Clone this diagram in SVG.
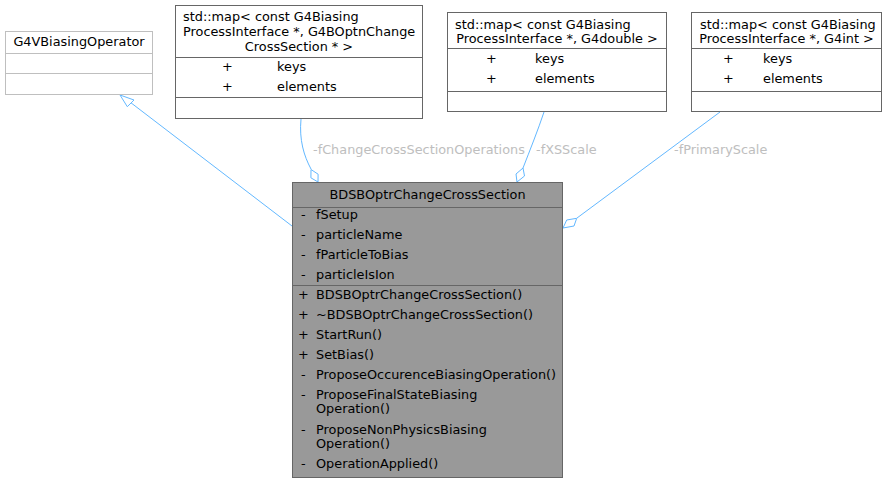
<svg xmlns="http://www.w3.org/2000/svg" width="887" height="483" viewBox="0 0 887 483">
<style>
text{font-family:"DejaVu Sans",sans-serif;font-size:12.85px;fill:#000}
.c{text-anchor:middle}
.lbl{fill:#bebebe}
.edge{fill:none;stroke:#63b8ff;stroke-width:1}
.head{fill:#fff;stroke:#63b8ff;stroke-width:1}
.box{fill:#fff;stroke:#666;stroke-width:1}
.gbox{fill:#fff;stroke:#bfbfbf;stroke-width:1}
.main{fill:#999;stroke:#666;stroke-width:1}
</style>
<rect width="887" height="483" fill="#fff"/>
<g id="edges">
<path class="edge" d="M292,226 L126,99"/>
<polygon class="head" points="120,95 127.3,106.7 134,100"/>
<path class="edge" d="M301,119 C299,140 304,156 311,169"/>
<polygon class="head" points="318,182 318.1,174.2 311,169.5 310.9,177.8"/>
<text class="lbl" x="313" y="154">-fChangeCrossSectionOperations</text>
<path class="edge" d="M544,112 C538,130 530,150 523,168"/>
<polygon class="head" points="517,182 516,174 523,168 524.5,176"/>
<text class="lbl" x="536" y="154">-fXSScale</text>
<path class="edge" d="M720,112 L577,218"/>
<polygon class="head" points="563,228 566.7,220 576.7,218.3 574,226"/>
<text class="lbl" x="674" y="154">-fPrimaryScale</text>
</g>
<g id="G4VBiasingOperator">
<rect class="gbox" x="5.5" y="31.5" width="147" height="63"/>
<line x1="5.5" y1="53.5" x2="152.5" y2="53.5" stroke="#bfbfbf"/>
<line x1="5.5" y1="73.5" x2="152.5" y2="73.5" stroke="#bfbfbf"/>
<text class="c" x="79" y="46">G4VBiasingOperator</text>
</g>
<g id="mapOps">
<rect class="box" x="175.5" y="5.5" width="247" height="113"/>
<line x1="175.5" y1="57.5" x2="422.5" y2="57.5" stroke="#666"/>
<line x1="175.5" y1="97.5" x2="422.5" y2="97.5" stroke="#666"/>
<text x="183" y="21">std::map&lt; const G4Biasing</text>
<text x="183" y="36">ProcessInterface *, G4BOptnChange</text>
<text class="c" x="299" y="51">CrossSection * &gt;</text>
<text x="222" y="71">+</text>
<text x="277" y="71">keys</text>
<text x="222" y="91">+</text>
<text x="277" y="91">elements</text>
</g>
<g id="mapDouble">
<rect class="box" x="447.5" y="12.5" width="219" height="99"/>
<line x1="447.5" y1="48.5" x2="666.5" y2="48.5" stroke="#666"/>
<line x1="447.5" y1="91.5" x2="666.5" y2="91.5" stroke="#666"/>
<text x="455" y="29">std::map&lt; const G4Biasing</text>
<text class="c" x="557" y="43">ProcessInterface *, G4double &gt;</text>
<text x="486" y="63">+</text>
<text x="535" y="63">keys</text>
<text x="486" y="83">+</text>
<text x="535" y="83">elements</text>
</g>
<g id="mapInt">
<rect class="box" x="691.5" y="12.5" width="190" height="99"/>
<line x1="691.5" y1="48.5" x2="881.5" y2="48.5" stroke="#666"/>
<line x1="691.5" y1="91.5" x2="881.5" y2="91.5" stroke="#666"/>
<text x="700" y="29">std::map&lt; const G4Biasing</text>
<text class="c" x="786.5" y="43">ProcessInterface *, G4int &gt;</text>
<text x="723" y="63">+</text>
<text x="763" y="63">keys</text>
<text x="723" y="83">+</text>
<text x="763" y="83">elements</text>
</g>
<g id="BDSBOptrChangeCrossSection">
<rect class="main" x="292.5" y="182.5" width="270" height="295"/>
<line x1="292.5" y1="207.5" x2="562.5" y2="207.5" stroke="#666"/>
<line x1="292.5" y1="285.5" x2="562.5" y2="285.5" stroke="#666"/>
<text class="c" x="427.5" y="199">BDSBOptrChangeCrossSection</text>
<text x="301" y="219">-</text><text x="316" y="219">fSetup</text>
<text x="301" y="239">-</text><text x="316" y="239">particleName</text>
<text x="301" y="259">-</text><text x="316" y="259">fParticleToBias</text>
<text x="301" y="279">-</text><text x="316" y="279">particleIsIon</text>
<text x="298" y="299">+</text><text x="316" y="299">BDSBOptrChangeCrossSection()</text>
<text x="298" y="319">+</text><text x="316" y="319">~BDSBOptrChangeCrossSection()</text>
<text x="298" y="339">+</text><text x="316" y="339">StartRun()</text>
<text x="298" y="359">+</text><text x="316" y="359">SetBias()</text>
<text x="301" y="379">-</text><text x="316" y="379">ProposeOccurenceBiasingOperation()</text>
<text x="301" y="399">-</text><text x="316" y="399">ProposeFinalStateBiasing</text>
<text x="316" y="413">Operation()</text>
<text x="301" y="434">-</text><text x="316" y="434">ProposeNonPhysicsBiasing</text>
<text x="316" y="448">Operation()</text>
<text x="301" y="468">-</text><text x="316" y="468">OperationApplied()</text>
</g>
</svg>
